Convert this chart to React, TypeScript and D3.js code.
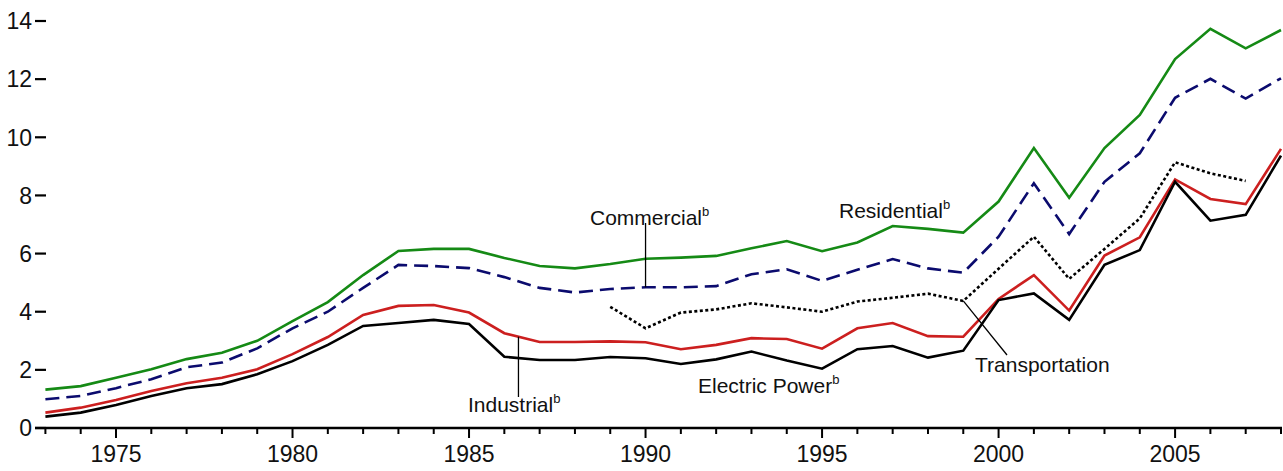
import React from "react";
import * as d3 from "d3";

const years = [1973,1974,1975,1976,1977,1978,1979,1980,1981,1982,1983,1984,1985,1986,1987,1988,1989,1990,1991,1992,1993,1994,1995,1996,1997,1998,1999,2000,2001,2002,2003,2004,2005,2006,2007,2008];
const residential = [1.32,1.44,1.73,2.02,2.37,2.59,3.00,3.68,4.33,5.26,6.09,6.16,6.16,5.85,5.57,5.49,5.64,5.82,5.86,5.92,6.18,6.43,6.08,6.38,6.95,6.85,6.72,7.79,9.63,7.92,9.63,10.77,12.69,13.73,13.06,13.69];
const commercial = [0.99,1.10,1.37,1.68,2.09,2.25,2.74,3.43,4.00,4.82,5.61,5.57,5.50,5.19,4.82,4.66,4.78,4.84,4.84,4.88,5.29,5.46,5.06,5.44,5.81,5.49,5.34,6.58,8.42,6.67,8.47,9.45,11.36,12.01,11.33,12.03];
const industrial = [0.53,0.70,0.96,1.27,1.54,1.73,2.02,2.54,3.13,3.89,4.20,4.23,3.97,3.26,2.96,2.96,2.98,2.95,2.71,2.86,3.09,3.06,2.73,3.43,3.61,3.16,3.14,4.44,5.26,4.04,5.93,6.56,8.55,7.88,7.70,9.60];
const electricPower = [0.39,0.53,0.79,1.10,1.37,1.51,1.85,2.30,2.86,3.51,3.61,3.72,3.58,2.45,2.34,2.34,2.44,2.40,2.20,2.36,2.63,2.32,2.04,2.71,2.82,2.42,2.66,4.40,4.63,3.72,5.61,6.12,8.47,7.13,7.33,9.37];
const transportYears = [1989,1990,1991,1992,1993,1994,1995,1996,1997,1998,1999,2000,2001,2002,2003,2004,2005,2006,2007];
const transportation = [4.17,3.43,3.97,4.08,4.29,4.15,4.00,4.35,4.48,4.62,4.37,5.48,6.58,5.13,6.16,7.21,9.14,8.76,8.50];
const yTicks = [0,2,4,6,8,10,12,14];
const xMajorTicks = [1975,1980,1985,1990,1995,2000,2005];

const W = 1283, H = 471;
const FONT = "'Liberation Sans', Arial, sans-serif";

export default function App() {
  const x = d3.scaleLinear().domain([1973, 2008]).range([45.4, 1281]);
  const y = d3.scaleLinear().domain([0, 14]).range([428, 21]);
  const line = d3.line<[number, number]>().x(d => x(d[0])).y(d => y(d[1]));
  const pts = (ys: number[], vs: number[]) => ys.map((yr, i) => [yr, vs[i]] as [number, number]);

  const series = [
    { vals: pts(years, residential), color: "#158a15", dash: undefined, w: 2.6 },
    { vals: pts(years, commercial), color: "#0b0b6e", dash: "14,7", w: 2.6 },
    { vals: pts(transportYears, transportation), color: "#000", dash: "3,2.5", w: 2.6 },
    { vals: pts(years, industrial), color: "#cc1f1f", dash: undefined, w: 2.6 },
    { vals: pts(years, electricPower), color: "#000", dash: undefined, w: 2.6 },
  ];

  const sup = (t: string) => (
    <tspan fontSize={13} dy={-9}>{t}</tspan>
  );

  const indYr = 1986.4;
  const indVal = 3.26 + (2.96 - 3.26) * 0.4;

  return (
    <svg width={W} height={H} style={{ position: "absolute", left: 0, top: 0, background: "#fff" }} fontFamily={FONT}>
      {yTicks.map(t => (
        <g key={t}>
          <line x1={35} x2={46} y1={y(t)} y2={y(t)} stroke="#000" strokeWidth={2.2} />
          <text x={32} y={y(t)} dy="0.36em" textAnchor="end" fontSize={23} fill="#111">{t}</text>
        </g>
      ))}
      <line x1={35} x2={1282} y1={y(0)} y2={y(0)} stroke="#000" strokeWidth={2.4} />
      {years.map(yr => (
        <line key={yr} x1={x(yr)} x2={x(yr)} y1={y(0)} y2={y(0) + (xMajorTicks.includes(yr) ? 10 : 6)} stroke="#000" strokeWidth={2} />
      ))}
      {xMajorTicks.map(yr => (
        <text key={yr} x={x(yr)} y={462} textAnchor="middle" fontSize={23} fill="#111">{yr}</text>
      ))}
      {series.map((s, i) => (
        <path key={i} d={line(s.vals) || ""} fill="none" stroke={s.color} strokeWidth={s.w}
          strokeDasharray={s.dash} strokeLinejoin="miter" />
      ))}
      <line x1={x(1990)} x2={x(1990)} y1={223} y2={y(4.84)} stroke="#000" strokeWidth={1.3} />
      <text x={590} y={225} fontSize={21} fill="#111">Commercial{sup("b")}</text>
      <text x={839} y={218} fontSize={21} fill="#111">Residential{sup("b")}</text>
      <line x1={x(indYr)} x2={x(indYr)} y1={y(indVal)} y2={397} stroke="#000" strokeWidth={1.3} />
      <text x={468} y={412} fontSize={21} fill="#111">Industrial{sup("b")}</text>
      <text x={698} y={393} fontSize={21} fill="#111">Electric Power{sup("b")}</text>
      <line x1={x(1999)} y1={y(4.37)} x2={1007} y2={355} stroke="#000" strokeWidth={1.3} />
      <text x={975} y={372} fontSize={21} fill="#111">Transportation</text>
    </svg>
  );
}
